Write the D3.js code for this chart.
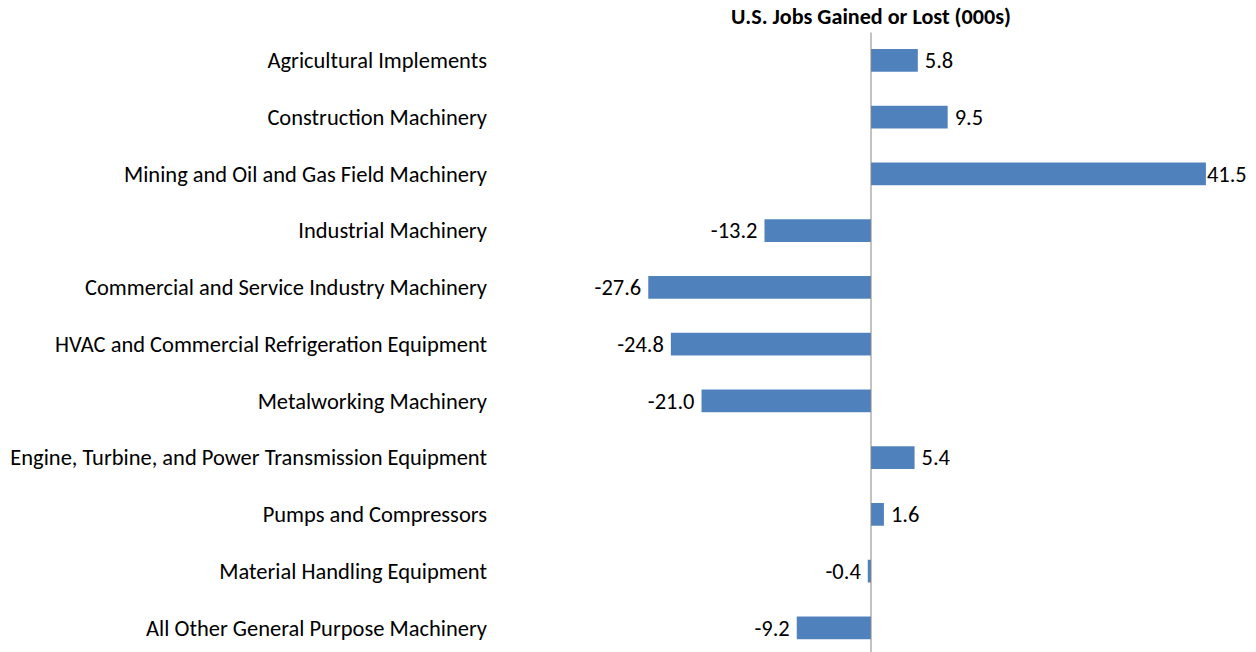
<!DOCTYPE html>
<html>
<head>
<meta charset="utf-8">
<script src="https://cdn.jsdelivr.net/npm/d3@7"></script>
<style>
  body { margin: 0; background: #fff; }
  text { font-family: Carlito, Calibri, Lato, "Open Sans", sans-serif; fill: #000; }
</style>
</head>
<body>
<script>
// data
var categories = [
  "Agricultural Implements",
  "Construction Machinery",
  "Mining and Oil and Gas Field Machinery",
  "Industrial Machinery",
  "Commercial and Service Industry Machinery",
  "HVAC and Commercial Refrigeration Equipment",
  "Metalworking Machinery",
  "Engine, Turbine, and Power Transmission Equipment",
  "Pumps and Compressors",
  "Material Handling Equipment",
  "All Other General Purpose Machinery"
];
var values = [5.8, 9.5, 41.5, -13.2, -27.6, -24.8, -21.0, 5.4, 1.6, -0.4, -9.2];
var title = "U.S. Jobs Gained or Lost (000s)";

var width = 1256, height = 652;
var svg = d3.select("body").append("svg")
  .attr("width", width)
  .attr("height", height);

// zero at 871, 41.5 at ~1206
var x = d3.scaleLinear()
  .domain([-28, 42])
  .range([871 - 28 * 8.07, 871 + 42 * 8.07]);

var y = d3.scaleBand()
  .domain(categories)
  .range([32, 32 + 56.75 * 11])
  .paddingInner(0.6)
  .paddingOuter(0.3);

var data = categories.map(function (c, i) { return {name: c, value: values[i]}; });

var t = svg.append("text")
  .attr("x", x(0))
  .attr("y", 24)
  .attr("text-anchor", "middle")
  .attr("font-weight", "bold")
  .attr("font-size", 16)
  .text(title);
// reference title is ~280px wide
t.attr("font-size", 16 * 280 / t.node().getComputedTextLength());

svg.selectAll("rect.bar")
  .data(data)
  .enter().append("rect")
  .attr("class", "bar")
  .attr("x", function (d) { return x(Math.min(0, d.value)); })
  .attr("y", function (d) { return y(d.name); })
  .attr("width", function (d) { return Math.abs(x(d.value) - x(0)); })
  .attr("height", y.bandwidth())
  .attr("fill", "#4f81bd");

// zero line
svg.append("line")
  .attr("x1", x(0)).attr("x2", x(0))
  .attr("y1", 32.5).attr("y2", height)
  .attr("stroke", "#868686")
  .attr("stroke-width", 1);

// category labels
var labels = svg.selectAll("text.cat")
  .data(data)
  .enter().append("text")
  .attr("class", "cat")
  .attr("x", 487)
  .attr("y", function (d) { return y(d.name) + y.bandwidth() / 2; })
  .attr("dy", "0.35em")
  .attr("text-anchor", "end")
  .attr("font-size", 17)
  .text(function (d) { return d.name; });

// fit longest label to ~477px like the reference
var longest = d3.max(labels.nodes(), function (n) { return n.getComputedTextLength(); });
var fs = 17 * 477 / longest;
labels.attr("font-size", fs);

var fmt = function (v) { return d3.format(".1f")(v).replace("\u2212", "-"); };

// value labels
svg.selectAll("text.val")
  .data(data)
  .enter().append("text")
  .attr("class", "val")
  .attr("y", function (d) { return y(d.name) + y.bandwidth() / 2; })
  .attr("dy", "0.35em")
  .attr("font-size", fs)
  .attr("text-anchor", function (d) { return d.value < 0 ? "end" : "start"; })
  .text(function (d) { return fmt(d.value); })
  .attr("x", function (d) {
    if (d.value < 0) return x(d.value) - 7;
    var w = this.getComputedTextLength();
    // keep the label inside the picture, like the 41.5 one
    return x(d.value) + 7 + w > width - 8 ? x(d.value) + 1 : x(d.value) + 7;
  });
</script>
</body>
</html>
